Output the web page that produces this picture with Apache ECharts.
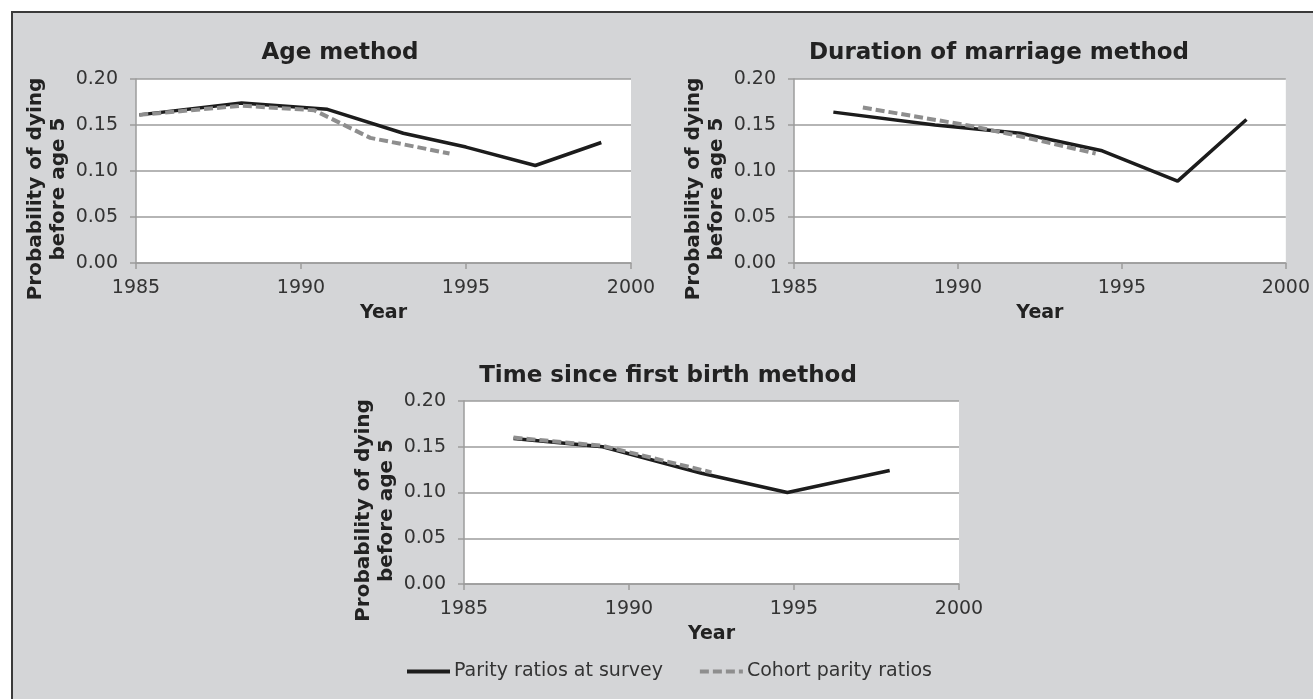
<!DOCTYPE html>
<html>
<head>
<meta charset="utf-8">
<script src="https://cdn.jsdelivr.net/npm/echarts@6/dist/echarts.min.js"></script>
<style>
  html, body { margin: 0; padding: 0; background: #fff; }
  #chart { width: 1313px; height: 699px; }
</style>
</head>
<body>
<div id="chart"></div>
<script>
// panel titles and legend names
const panelTitles = ['Age method', 'Duration of marriage method', 'Time since first birth method']
const seriesNames = ['Parity ratios at survey', 'Cohort parity ratios']

// axis ticks
const yearTicks = [1985, 1990, 1995, 2000]
const probTicks = [0.00, 0.05, 0.10, 0.15, 0.20]

// Age method
const ageSurveyYears = [1985.1, 1988.2, 1990.8, 1993.1, 1995.0, 1997.1, 1999.1]
const ageSurveyValues = [0.161, 0.174, 0.167, 0.141, 0.126, 0.106, 0.131]
const ageCohortYears = [1985.1, 1988.2, 1990.4, 1992.1, 1993.1, 1994.5]
const ageCohortValues = [0.161, 0.171, 0.166, 0.136, 0.129, 0.119]

// Duration of marriage method
const durSurveyYears = [1986.2, 1989.3, 1991.9, 1994.4, 1996.7, 1998.8]
const durSurveyValues = [0.164, 0.150, 0.141, 0.122, 0.089, 0.156]
const durCohortYears = [1987.1, 1990.4, 1992.0, 1994.2]
const durCohortValues = [0.169, 0.149, 0.137, 0.119]

// Time since first birth method
const tsbSurveyYears = [1986.5, 1989.2, 1992.2, 1994.8, 1997.9]
const tsbSurveyValues = [0.159, 0.150, 0.121, 0.100, 0.124]
const tsbCohortYears = [1986.5, 1989.2, 1992.5]
const tsbCohortValues = [0.160, 0.151, 0.122]

const pair = (xs, ys) => xs.map((x, i) => [x, ys[i]])

const font = 'DejaVu Sans, Verdana, sans-serif'
const gridColor = '#9c9c9c'

// pixel layout of the three plot areas
const grids = [
  { left: 136, top: 79, width: 495, height: 184 },
  { left: 794, top: 79, width: 496, height: 184 },
  { left: 464, top: 401, width: 495, height: 183 }
]
const titlePos = [
  { left: 340, top: 42 },
  { left: 999, top: 42 },
  { left: 668, top: 365 }
]

const chart = echarts.init(document.getElementById('chart'), null, { renderer: 'canvas' })

const xAxes = grids.map((g, i) => ({
  type: 'value',
  gridIndex: i,
  min: yearTicks[0],
  max: yearTicks[yearTicks.length - 1],
  interval: yearTicks[1] - yearTicks[0],
  name: 'Year',
  nameLocation: 'middle',
  nameGap: 41,
  nameTextStyle: { fontFamily: font, fontSize: 19, fontWeight: 'bold', color: '#222' },
  axisLine: { show: true, lineStyle: { color: gridColor, width: 1.5 } },
  axisTick: { show: true, length: 6, lineStyle: { color: gridColor, width: 1.5 } },
  axisLabel: { margin: 16, fontFamily: font, fontSize: 19, color: '#333', formatter: v => String(v) },
  splitLine: { show: false }
}))

const yAxes = grids.map((g, i) => ({
  type: 'value',
  gridIndex: i,
  min: probTicks[0],
  max: probTicks[probTicks.length - 1],
  interval: probTicks[1] - probTicks[0],
  name: 'Probability of dying\nbefore age 5',
  nameLocation: 'middle',
  nameRotate: 90,
  nameGap: 66,
  nameTextStyle: {
    fontFamily: font, fontSize: 20, fontWeight: 'bold', color: '#222',
    lineHeight: 23, padding: [0, 36, 0, 0]
  },
  axisLine: { show: true, lineStyle: { color: gridColor, width: 1.5 } },
  axisTick: { show: true, length: 6, lineStyle: { color: gridColor, width: 1.5 } },
  axisLabel: {
    margin: 18, fontFamily: font, fontSize: 19, color: '#333',
    formatter: v => v.toFixed(2)
  },
  splitLine: { show: true, lineStyle: { color: gridColor, width: 1.5 } }
}))

const surveyStyle = { color: '#1c1c1c', width: 3.5, type: 'solid' }
const cohortStyle = { color: '#8e8e8e', width: 4, type: [9, 4] }

function lineSeries(name, idx, data, style) {
  return {
    type: 'line',
    name: name,
    xAxisIndex: idx,
    yAxisIndex: idx,
    data: data,
    symbol: 'none',
    lineStyle: style,
    itemStyle: { color: style.color },
    animation: false
  }
}

const series = [
  lineSeries(seriesNames[0], 0, pair(ageSurveyYears, ageSurveyValues), surveyStyle),
  lineSeries(seriesNames[1], 0, pair(ageCohortYears, ageCohortValues), cohortStyle),
  lineSeries(seriesNames[0], 1, pair(durSurveyYears, durSurveyValues), surveyStyle),
  lineSeries(seriesNames[1], 1, pair(durCohortYears, durCohortValues), cohortStyle),
  lineSeries(seriesNames[0], 2, pair(tsbSurveyYears, tsbSurveyValues), surveyStyle),
  lineSeries(seriesNames[1], 2, pair(tsbCohortYears, tsbCohortValues), cohortStyle)
]

const options = {
  backgroundColor: 'transparent',
  animation: false,
  graphic: [{
    type: 'rect',
    z: -10,
    silent: true,
    shape: { x: 12, y: 12, width: 1330, height: 720 },
    style: { fill: '#d4d5d7', stroke: '#3a3a3a', lineWidth: 2 }
  }],
  title: panelTitles.map((t, i) => ({
    text: t,
    left: titlePos[i].left,
    top: titlePos[i].top,
    textAlign: 'center',
    padding: 0,
    textStyle: { fontFamily: font, fontSize: 23, fontWeight: 'bold', color: '#222' }
  })),
  legend: {
    data: seriesNames,
    left: 405,
    top: 662,
    padding: 0,
    itemWidth: 43,
    itemHeight: 14,
    itemGap: 35,
    itemStyle: { opacity: 0 },
    lineStyle: { width: 4 },
    textStyle: { fontFamily: font, fontSize: 19, color: '#333', padding: [0, 0, 0, -1] }
  },
  grid: grids.map(g => ({
    left: g.left,
    top: g.top,
    width: g.width,
    height: g.height,
    show: true,
    backgroundColor: '#fff',
    borderWidth: 0
  })),
  xAxis: xAxes,
  yAxis: yAxes,
  series: series
}

chart.setOption(options)
</script>
</body>
</html>
